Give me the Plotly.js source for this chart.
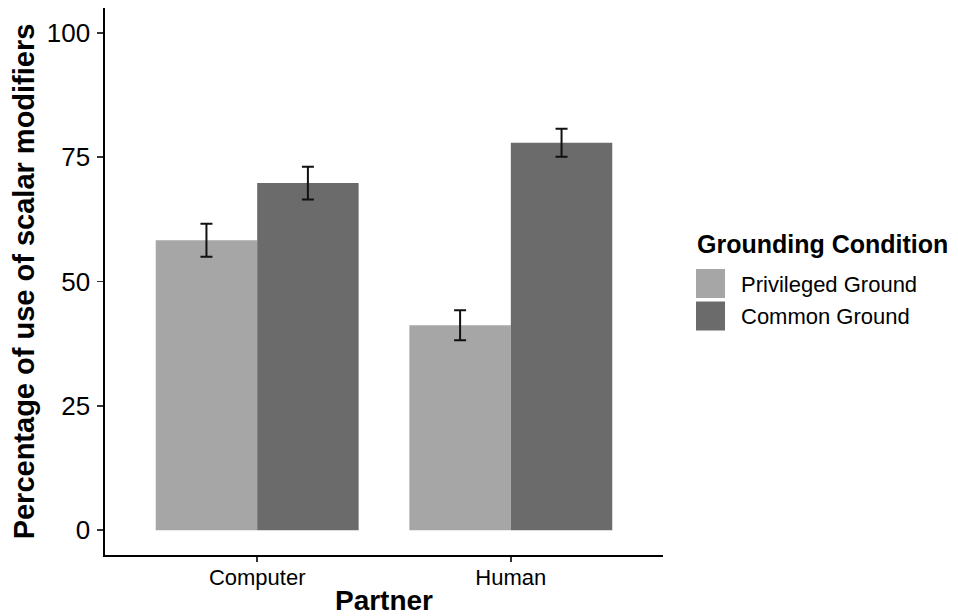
<!DOCTYPE html>
<html>
<head>
<meta charset="utf-8">
<script src="https://cdn.plot.ly/plotly-3.0.1.min.js"></script>
<style>html,body{margin:0;padding:0;background:#fff;}#chart{width:958px;height:616px;}</style>
</head>
<body>
<div id="chart"></div>
<script>
// Data
var partners = ["Computer", "Human"];
var groups = ["Privileged Ground", "Common Ground"];
var privilegedValues = [58.3, 41.2];
var privilegedErrors = [3.3, 3.0];
var commonValues = [69.8, 77.9];
var commonErrors = [3.3, 2.8];
var yTicks = [0, 25, 50, 75, 100];
var legendTitle = "Grounding Condition";
var xTitle = "Partner";
var yTitle = "Percentage of use of scalar modifiers";

var colors = ["#A6A6A6", "#6B6B6B"];
var font = "Liberation Sans, Arial, sans-serif";

var values = [privilegedValues, commonValues];
var errors = [privilegedErrors, commonErrors];

var traces = groups.map(function (g, i) {
  return {
    type: "bar",
    name: g,
    x: partners,
    y: values[i],
    marker: { color: colors[i], line: { width: 0 } },
    error_y: { type: "data", array: errors[i], visible: true, color: "#111", thickness: 2, width: 6 },
    showlegend: false,
    hoverinfo: "x+y"
  };
});

// Plot area in pixels
var L = 105, R = 663, T = 8, B = 555;
var W = 958, H = 616;
function px(x) { return (x - L) / (R - L); }
function py(y) { return (B - y) / (B - T); }

var shapes = [];
var annotations = [];
annotations.push({
  xref: "paper", yref: "paper", x: px(695), y: py(244), xanchor: "left", yanchor: "middle",
  text: "<b>" + legendTitle + "</b>", showarrow: false,
  font: { family: font, size: 25, color: "#000" }
});
groups.forEach(function (g, i) {
  var top = 269 + i * 32.5;
  shapes.push({
    type: "rect", xref: "paper", yref: "paper",
    x0: px(696), x1: px(725), y0: py(top + 29), y1: py(top),
    fillcolor: colors[i], line: { width: 0 }
  });
  annotations.push({
    xref: "paper", yref: "paper", x: px(739), y: py(top + 15), xanchor: "left", yanchor: "middle",
    text: g, showarrow: false,
    font: { family: font, size: 22, color: "#000" }
  });
});

var layout = {
  width: W, height: H,
  margin: { l: L, r: W - R, t: T, b: H - B, pad: 0 },
  paper_bgcolor: "#fff", plot_bgcolor: "#fff",
  barmode: "group", bargap: 0.2, bargroupgap: 0,
  font: { family: font, color: "#000" },
  xaxis: {
    type: "category", range: [-0.6, 1.6],
    showline: true, linecolor: "#000", linewidth: 1.6,
    ticks: "outside", ticklen: 5, tickwidth: 1.4, tickcolor: "#333",
    showgrid: false, zeroline: false,
    tickfont: { family: font, size: 22, color: "#000" },
    ticklabelstandoff: -3,
    title: { text: "<b>" + xTitle + "</b>", font: { family: font, size: 28, color: "#000" }, standoff: 4 }
  },
  yaxis: {
    range: [-5, 105], tickvals: yTicks, ticktext: yTicks.map(String),
    showline: true, linecolor: "#000", linewidth: 1.6,
    ticks: "outside", ticklen: 6, tickwidth: 1.4, tickcolor: "#333",
    showgrid: false, zeroline: false,
    tickfont: { family: font, size: 26, color: "#000" },
    ticklabelstandoff: 2,
    title: { text: "<b>" + yTitle + "</b>", font: { family: font, size: 29, color: "#000" }, standoff: 3 }
  },
  shapes: shapes,
  annotations: annotations,
  showlegend: false
};

Plotly.newPlot("chart", traces, layout, { displayModeBar: false, staticPlot: true });
</script>
</body>
</html>
